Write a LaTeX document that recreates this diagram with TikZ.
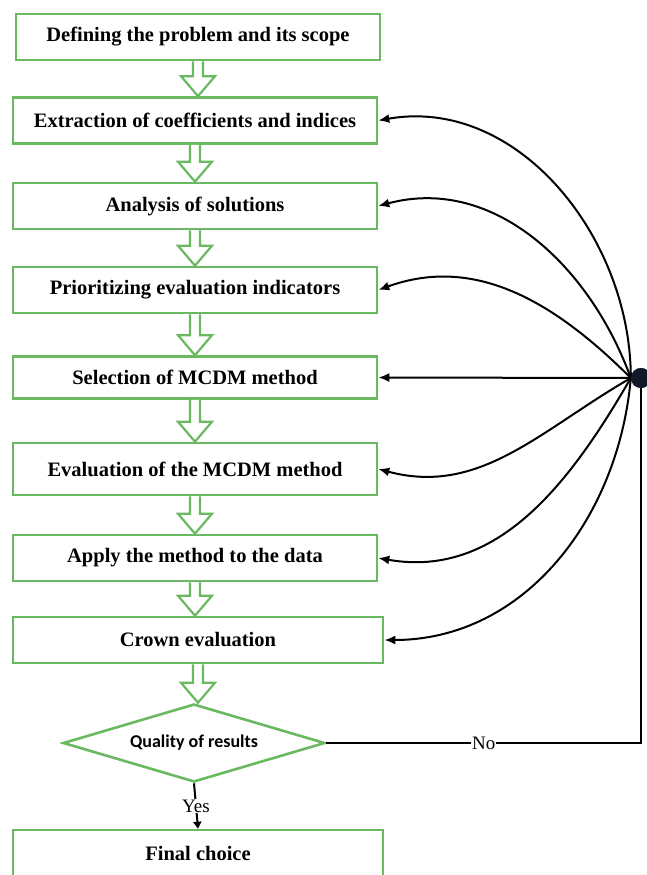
\documentclass[tikz,border=0pt]{standalone}
\usepackage{fontspec}
\setmainfont{Liberation Serif}
\newfontfamily\calibrifont{Carlito}
\usepackage{xcolor}
\usetikzlibrary{positioning, calc, arrows.meta, shapes.geometric}

\definecolor{boxgreen}{RGB}{106,184,96}
\definecolor{hubblue}{RGB}{16,24,42}

\tikzset{
  stepbox/.style={draw=boxgreen, line width=2.6pt, fill=white, minimum width=364pt,
    minimum height=46pt, inner sep=0pt, font=\fontsize{20.5}{24}\selectfont\bfseries},
  hollow/.style={draw=boxgreen, line width=2.2pt, fill=white, line join=miter},
  back/.style={line width=2pt, -{Latex[length=11pt,width=9pt]}}
}

% hollow green arrow from the bottom of one box to the top of the next
\newcommand{\fatarrow}[2]{%
  \draw[hollow] let \p1=(#1.south), \p2=(#2.north) in
    (\x1-5pt,\y1) -- (\x1-5pt,\y2+20pt) -- (\x1-17pt,\y2+20pt) -- (\x1,\y2)
    -- (\x1+17pt,\y2+20pt) -- (\x1+5pt,\y2+20pt) -- (\x1+5pt,\y1);}

\begin{document}
\begin{tikzpicture}[x=1pt,y=-1pt]
  \useasboundingbox (0,0) rectangle (646,875);

  \node[stepbox] (b1) at (198,37) {Defining the problem and its scope};
  \node[stepbox] (b2) at (195,120.5) {Extraction of coefficients and indices};
  \node[stepbox] (b3) at (195,206) {Analysis of solutions};
  \node[stepbox] (b4) at (195,290) {Prioritizing evaluation indicators};
  \node[stepbox, minimum height=42pt] (b5) at (195,377.5) {Selection of MCDM method};
  \node[stepbox, minimum height=52pt] (b6) at (195,469) {Evaluation of the MCDM method};
  \node[stepbox] (b7) at (195,558) {Apply the method to the data};
  \node[stepbox, minimum width=370pt] (b8) at (198,640) {Crown evaluation};
  \node[diamond, aspect=3.36, draw=boxgreen, line width=2.6pt, fill=white, minimum width=262pt,
    minimum height=78pt, inner sep=0pt, font=\calibrifont\fontsize{18}{20}\selectfont\bfseries]
    (q) at (194,743) {Quality of results};
  \node[stepbox, minimum width=370pt] (fin) at (198,853) {Final choice};

  \fatarrow{b1}{b2}
  \fatarrow{b2}{b3}
  \fatarrow{b3}{b4}
  \fatarrow{b4}{b5}
  \fatarrow{b5}{b6}
  \fatarrow{b6}{b7}
  \fatarrow{b7}{b8}
  \fatarrow{b8}{q}

  % feedback from the hub
  \node[circle, fill=hubblue, minimum size=20pt, inner sep=0pt] (hub) at (641,378) {};
  \draw[back] (hub.west) to[out=90, in=10] (b2.east);
  \draw[back] (hub.west) to[out=110, in=15] (b3.east);
  \draw[back] (hub.west) to[out=135, in=20] (b4.east);
  \draw[back] (hub.west) -- (b5.east);
  \draw[back] (hub.west) to[out=-150, in=-15] (b6.east);
  \draw[back] (hub.west) to[out=-120, in=-10] (b7.east);
  \draw[back] (hub.west) to[out=-95, in=0] (b8.east);
  \node[circle, fill=hubblue, minimum size=20pt, inner sep=0pt] at (hub) {};

  \draw[line width=2pt] (q.east) -- node[fill=white, inner sep=1pt, font=\fontsize{19}{21}\selectfont] {No}
    (q.east -| hub) -- (hub.south);
  \draw[line width=2pt, -{Triangle[length=7pt,width=8pt]}] (q.south)
    -- node[fill=white, inner sep=1pt, font=\fontsize{19}{21}\selectfont] {Yes} (fin.north);
\end{tikzpicture}
\end{document}
